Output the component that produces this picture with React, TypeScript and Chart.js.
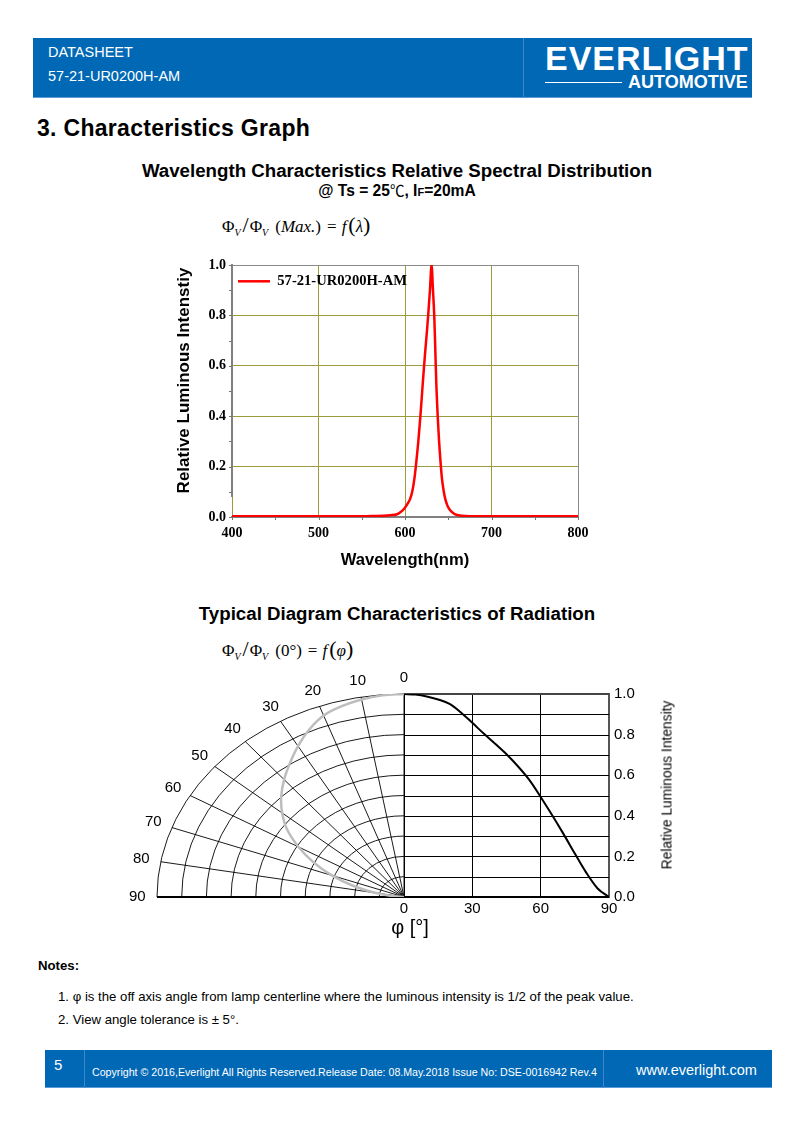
import React, { useEffect, useRef } from 'react';
import { Chart, registerables } from 'chart.js';

Chart.register(...registerables);

const SANS = '"Liberation Sans", Arial, Helvetica, sans-serif';
const SERIF = '"Liberation Serif", "Times New Roman", serif';
const CJK = '"Noto Sans CJK SC", "Liberation Sans", sans-serif';
const BLUE = '#0068b5';

// ---------- Spectral distribution data ----------
const SERIES_NAME = '57-21-UR0200H-AM';
const WAVELENGTH_NM = [
  400, 450, 500, 550, 565, 575, 583, 590, 595, 599.5, 602.5, 605.7, 608.35, 610.8, 612.5, 615.4,
  617.8, 619.9, 622.05, 624.45, 626.8, 628.85, 630.7, 632.35, 633.8, 634.75, 635.55, 636.5, 637.8,
  639.4, 641.5, 642.8, 644.85, 646.7, 648.5, 650.5, 654, 658, 665, 675, 700, 750, 800,
];
const REL_SPECTRUM = [
  0.003, 0.003, 0.003, 0.003, 0.004, 0.005, 0.007, 0.01, 0.02, 0.035, 0.05, 0.07, 0.1, 0.15, 0.2,
  0.3, 0.4, 0.5, 0.6, 0.7, 0.8, 0.9, 1.0, 0.9, 0.8, 0.7, 0.6, 0.5, 0.4, 0.3, 0.2, 0.15, 0.1, 0.07,
  0.05, 0.035, 0.02, 0.01, 0.005, 0.003, 0.003, 0.003, 0.003,
];
const SPEC_X_RANGE = [400, 800];
const SPEC_X_STEP = 100;
const SPEC_Y_RANGE = [0, 1];
const SPEC_Y_STEP = 0.2;

// ---------- Radiation diagram data ----------
const RAD_ANGLES = [0, 5, 10, 15, 20, 25, 30, 35, 40, 45, 50, 55, 60, 65, 70, 75, 80, 85, 90];
const RAD_INTENSITY = [
  1.0, 0.997, 0.988, 0.973, 0.951, 0.909, 0.858, 0.805, 0.755, 0.703, 0.644, 0.577, 0.493, 0.404,
  0.311, 0.214, 0.12, 0.042, 0.0,
];
const POLAR_ANGLE_LABELS = [0, 10, 20, 30, 40, 50, 60, 70, 80, 90];
const RAD_X_STEP = 30;
const RAD_Y_STEP = 0.2;

type TProps = {
  x: number; y: number; size: number; bold?: boolean; family?: string; color?: string;
  align?: 'left' | 'center' | 'right'; style?: React.CSSProperties; children?: React.ReactNode;
};
const T = ({ x, y, size, bold, family = SANS, color = '#000', align = 'left', style, children }: TProps) => {
  const transform = align === 'center' ? 'translateX(-50%)' : align === 'right' ? 'translateX(-100%)' : undefined;
  return (
    <div
      style={{
        position: 'absolute', left: x, top: y - size / 2, fontSize: size, lineHeight: `${size}px`,
        fontFamily: family, fontWeight: bold ? 700 : 400, color, whiteSpace: 'nowrap', transform, ...style,
      }}
    >
      {children}
    </div>
  );
};

const Y_TITLE_SHIFT = 21;

const specFrame = {
  id: 'specFrame',
  afterLayout(chart: any) {
    // legend sits inside the plot, at its upper-left corner
    const lg = chart.legend;
    if (lg) {
      const h = lg.bottom - lg.top;
      lg.top = chart.chartArea.top + 3;
      lg.bottom = lg.top + h;
    }
  },
  beforeDraw(chart: any) {
    // y-axis title is centred a little above the plot's middle
    const ys = chart.scales.y;
    if (ys && !ys.$shifted) { ys.bottom -= Y_TITLE_SHIFT; ys.$shifted = true; }
  },
  beforeDatasetsDraw(chart: any) {
    const { ctx, chartArea: a, scales } = chart;
    const xs = scales.x, ys = scales.y;
    if (ys.$shifted) { ys.bottom += Y_TITLE_SHIFT; ys.$shifted = false; }
    ctx.save();
    ctx.strokeStyle = '#8a8a8a';
    ctx.lineWidth = 1;
    ctx.beginPath();
    ctx.moveTo(a.left, a.top + 0.5);
    ctx.lineTo(a.right + 0.5, a.top + 0.5);
    ctx.lineTo(a.right + 0.5, a.bottom);
    ctx.stroke();
    ctx.strokeStyle = '#777';
    for (let v = 0; v <= 10; v++) {
      const py = Math.round(ys.getPixelForValue(v / 10)) + 0.5;
      ctx.beginPath();
      ctx.moveTo(a.left - 3, py);
      ctx.lineTo(a.left, py);
      ctx.stroke();
    }
    for (let w = SPEC_X_RANGE[0]; w <= SPEC_X_RANGE[1]; w += 50) {
      const px = Math.round(xs.getPixelForValue(w)) + 0.5;
      ctx.beginPath();
      ctx.moveTo(px, a.bottom);
      ctx.lineTo(px, a.bottom + 3);
      ctx.stroke();
    }
    ctx.restore();
  },
};

const SpectrumChart = () => {
  const ref = useRef<HTMLCanvasElement>(null);
  useEffect(() => {
    const chart = new Chart(ref.current as HTMLCanvasElement, {
      type: 'line',
      data: {
        datasets: [
          {
            label: SERIES_NAME,
            data: WAVELENGTH_NM.map((x, i) => ({ x, y: REL_SPECTRUM[i] })),
            borderColor: '#ff0000',
            backgroundColor: '#ff0000',
            borderWidth: 2.5,
            pointRadius: 0,
            cubicInterpolationMode: 'monotone',
            fill: false,
          } as any,
        ],
      },
      options: {
        responsive: false,
        animation: false,
        devicePixelRatio: 1,
        layout: { padding: { top: 15, right: 22, left: 0, bottom: 0 } },
        plugins: {
          legend: {
            position: 'chartArea' as any,
            align: 'start',
            labels: {
              usePointStyle: true,
              pointStyle: 'line',
              pointStyleWidth: 32,
              padding: 6,
              color: '#000',
              font: { family: SERIF, weight: 'bold', size: 14.6 },
            },
          },
          tooltip: { enabled: false },
        },
        scales: {
          x: {
            type: 'linear',
            min: SPEC_X_RANGE[0],
            max: SPEC_X_RANGE[1],
            ticks: { stepSize: SPEC_X_STEP, color: '#000', padding: 8, maxRotation: 0, font: { family: SERIF, weight: 'bold', size: 14 } },
            grid: { color: '#9c9c3c', lineWidth: 1, drawTicks: false },
            border: { display: true, color: '#808080', width: 2 },
            title: { display: true, text: 'Wavelength(nm)', color: '#000', font: { family: SANS, weight: 'bold', size: 16.6 }, padding: { top: 0, bottom: 10 } },
            afterFit: (s: any) => { s.height = 63; },
          },
          y: {
            type: 'linear',
            min: SPEC_Y_RANGE[0],
            max: SPEC_Y_RANGE[1],
            ticks: { stepSize: SPEC_Y_STEP, color: '#000', padding: 6, callback: (v: any) => Number(v).toFixed(1), font: { family: SERIF, weight: 'bold', size: 14 } },
            grid: { color: '#9c9c3c', lineWidth: 1, drawTicks: false },
            border: { display: true, color: '#808080', width: 2 },
            title: { display: true, text: 'Relative Luminous Intenstiy', color: '#000', font: { family: SANS, weight: 'bold', size: 17 }, padding: { top: 14, bottom: 0 } },
            afterFit: (s: any) => { s.width = 72; },
          },
        },
      } as any,
      plugins: [specFrame],
    });
    return () => chart.destroy();
  }, []);
  return <canvas ref={ref} width={440} height={330} style={{ position: 'absolute', left: 160, top: 250, width: 440, height: 330 }} />;
};

const polarGrid = {
  id: 'polarGrid',
  beforeDatasetsDraw(chart: any) {
    const { ctx, scales } = chart;
    const xp = scales.xp, x = scales.x, y = scales.y;
    const cx = xp.getPixelForValue(0);
    const cy = y.getPixelForValue(0);
    const rx = cx - xp.getPixelForValue(-1);
    const ry = cy - y.getPixelForValue(1);
    ctx.save();
    ctx.strokeStyle = '#000';
    ctx.lineWidth = 1;
    // horizontal grid of the right (cartesian) half
    for (let v = 1; v < 10; v++) {
      const py = Math.round(y.getPixelForValue(v / 10)) + 0.5;
      ctx.beginPath();
      ctx.moveTo(x.left, py);
      ctx.lineTo(x.right, py);
      ctx.stroke();
    }
    // polar arcs
    ctx.lineWidth = 0.9;
    for (let k = 1; k <= 10; k++) {
      ctx.beginPath();
      ctx.ellipse(cx, cy, (rx * k) / 10, (ry * k) / 10, 0, Math.PI, 1.5 * Math.PI);
      ctx.stroke();
    }
    // spokes
    for (const a of POLAR_ANGLE_LABELS) {
      const t = (a * Math.PI) / 180;
      ctx.beginPath();
      ctx.moveTo(cx, cy);
      ctx.lineTo(cx - rx * Math.sin(t), cy - ry * Math.cos(t));
      ctx.stroke();
    }
    // borders
    ctx.lineWidth = 2;
    ctx.strokeStyle = '#444';
    ctx.beginPath();
    ctx.moveTo(cx, y.getPixelForValue(1));
    ctx.lineTo(x.right, y.getPixelForValue(1));
    ctx.stroke();
    ctx.strokeStyle = '#000';
    ctx.beginPath();
    ctx.moveTo(cx - rx, cy);
    ctx.lineTo(x.right, cy);
    ctx.stroke();
    // angle labels
    ctx.fillStyle = '#000';
    ctx.font = `15px ${SANS}`;
    ctx.textAlign = 'center';
    ctx.textBaseline = 'middle';
    for (const a of POLAR_ANGLE_LABELS) {
      const t = (a * Math.PI) / 180;
      ctx.fillText(String(a), cx - rx * 1.08 * Math.sin(t), cy - ry * 1.08 * Math.cos(t));
    }
    ctx.restore();
  },
};

const RadiationChart = () => {
  const ref = useRef<HTMLCanvasElement>(null);
  useEffect(() => {
    const rad = (d: number) => (d * Math.PI) / 180;
    const chart = new Chart(ref.current as HTMLCanvasElement, {
      type: 'scatter',
      data: {
        datasets: [
          {
            label: 'polar',
            xAxisID: 'xp',
            yAxisID: 'y',
            data: RAD_ANGLES.map((a, i) => ({ x: -RAD_INTENSITY[i] * Math.sin(rad(a)), y: RAD_INTENSITY[i] * Math.cos(rad(a)) })),
            showLine: true,
            borderColor: '#bdbdbd',
            borderWidth: 2.5,
            pointRadius: 0,
            tension: 0.4,
          },
          {
            label: 'cartesian',
            xAxisID: 'x',
            yAxisID: 'y',
            data: RAD_ANGLES.map((a, i) => ({ x: a, y: RAD_INTENSITY[i] })),
            showLine: true,
            borderColor: '#000',
            borderWidth: 2,
            pointRadius: 0,
            cubicInterpolationMode: 'monotone',
          } as any,
        ],
      },
      options: {
        responsive: false,
        animation: false,
        devicePixelRatio: 1,
        layout: { padding: { left: 57, top: 34, right: 0, bottom: 0 } },
        plugins: { legend: { display: false }, tooltip: { enabled: false } },
        scales: {
          xp: {
            type: 'linear', position: 'bottom', stack: 'bx', stackWeight: 247, min: -1, max: 0,
            grid: { display: false, drawTicks: false }, ticks: { display: false }, border: { display: false },
            afterFit: (s: any) => { s.height = 33; },
          },
          x: {
            type: 'linear', position: 'bottom', stack: 'bx', stackWeight: 205, min: 0, max: 90,
            ticks: { stepSize: RAD_X_STEP, color: '#000', padding: 3, maxRotation: 0, font: { family: SANS, size: 15 } },
            grid: { color: '#000', lineWidth: 1, drawTicks: false },
            border: { display: false },
            afterFit: (s: any) => { s.height = 33; },
          },
          y: {
            type: 'linear', position: 'right', min: 0, max: 1,
            ticks: { stepSize: RAD_Y_STEP, color: '#000', padding: 5, callback: (v: any) => Number(v).toFixed(1), font: { family: SANS, size: 15 } },
            grid: { display: false, drawTicks: false },
            border: { display: true, color: '#555', width: 2 },
            afterFit: (s: any) => { s.width = 51; },
          },
        },
      } as any,
      plugins: [polarGrid],
    });
    return () => chart.destroy();
  }, []);
  return <canvas ref={ref} width={560} height={270} style={{ position: 'absolute', left: 100, top: 660, width: 560, height: 270 }} />;
};

const Formula = ({ x, y, den, arg }: { x: number; y: number; den: React.ReactNode; arg: string }) => (
  <div style={{ position: 'absolute', left: x, top: y - 12, height: 24, lineHeight: '24px', fontFamily: SERIF, fontSize: 17, whiteSpace: 'nowrap', color: '#000' }}>
    <span>Φ</span>
    <span style={{ fontStyle: 'italic', fontSize: 10, verticalAlign: -4 }}>V</span>
    <span style={{ fontSize: 22, margin: '0 1px 0 2px' }}>/</span>
    <span>Φ</span>
    <span style={{ fontStyle: 'italic', fontSize: 10, verticalAlign: -4 }}>V</span>
    <span style={{ marginLeft: 7 }}>{den}</span>
    <span style={{ margin: '0 5px 0 6px' }}>=</span>
    <span style={{ fontStyle: 'italic', marginRight: 2 }}>f</span>
    <span style={{ fontSize: 22 }}>(</span>
    <span style={{ fontStyle: 'italic' }}>{arg}</span>
    <span style={{ fontSize: 22 }}>)</span>
  </div>
);

export default function App() {
  return (
    <div style={{ position: 'absolute', left: 0, top: 0, width: 793, height: 1123, background: '#fff', overflow: 'hidden' }}>
      {/* header */}
      <div style={{ position: 'absolute', left: 33, top: 38, width: 719, height: 60, background: BLUE, borderBottom: '1px solid #5b9bd5', boxSizing: 'border-box' }} />
      <div style={{ position: 'absolute', left: 523, top: 38, width: 1, height: 60, background: '#3f86c8' }} />
      <T x={48} y={52} size={14.5} color="#fff">DATASHEET</T>
      <T x={48} y={76} size={14.5} color="#fff">57-21-UR0200H-AM</T>
      <T x={545} y={58} size={34} bold color="#fff" style={{ letterSpacing: 1 }}>EVERLIGHT</T>
      <div style={{ position: 'absolute', left: 545, top: 82, width: 77, height: 1, background: '#fff' }} />
      <T x={628} y={82} size={18} bold color="#fff">AUTOMOTIVE</T>

      <T x={37} y={128} size={23} bold style={{ letterSpacing: 0.3 }}>3. Characteristics Graph</T>

      {/* chart 1 */}
      <T x={397} y={171} size={18.7} bold align="center">Wavelength Characteristics Relative Spectral Distribution</T>
      <T x={397} y={190} size={15.6} bold align="center">
        @ Ts = 25<span style={{ fontFamily: CJK, fontWeight: 400, fontSize: 14.5 }}>℃</span>, I<span style={{ fontSize: 11 }}>F</span>=20mA
      </T>
      <Formula x={222} y={225} den={<span>(<i>Max.</i>)</span>} arg="λ" />
      <SpectrumChart />

      {/* chart 2 */}
      <T x={397} y={614} size={18.7} bold align="center">Typical Diagram Characteristics of Radiation</T>
      <Formula x={222} y={649} den={<span>(0°)</span>} arg="φ" />
      <RadiationChart />
      <div
        style={{
          position: 'absolute', left: 667, top: 785, fontFamily: SANS, fontSize: 13.8, lineHeight: '15px',
          whiteSpace: 'nowrap', color: '#000', transform: 'translate(-50%, -50%) rotate(-90deg)',
        }}
      >
        Relative Luminous Intensity
      </div>
      <T x={410} y={927} size={20} align="center">φ [°]</T>

      {/* notes */}
      <T x={38} y={966} size={13.2} bold>Notes:</T>
      <T x={58} y={997} size={13.2}>1. φ is the off axis angle from lamp centerline where the luminous intensity is 1/2 of the peak value.</T>
      <T x={58} y={1020} size={13.2}>2. View angle tolerance is ± 5°.</T>

      {/* footer */}
      <div style={{ position: 'absolute', left: 45, top: 1050, width: 727, height: 38, background: BLUE, borderBottom: '1px solid #5b9bd5', boxSizing: 'border-box' }} />
      <div style={{ position: 'absolute', left: 84, top: 1050, width: 1, height: 38, background: '#3f86c8' }} />
      <div style={{ position: 'absolute', left: 603, top: 1050, width: 1, height: 38, background: '#3f86c8' }} />
      <T x={54} y={1064} size={15} color="#fff">5</T>
      <T x={92} y={1072} size={10.65} color="#fff">Copyright © 2016,Everlight All Rights Reserved.Release Date: 08.May.2018 Issue No: DSE-0016942 Rev.4</T>
      <T x={636} y={1070} size={14.5} color="#fff">www.everlight.com</T>
    </div>
  );
}
